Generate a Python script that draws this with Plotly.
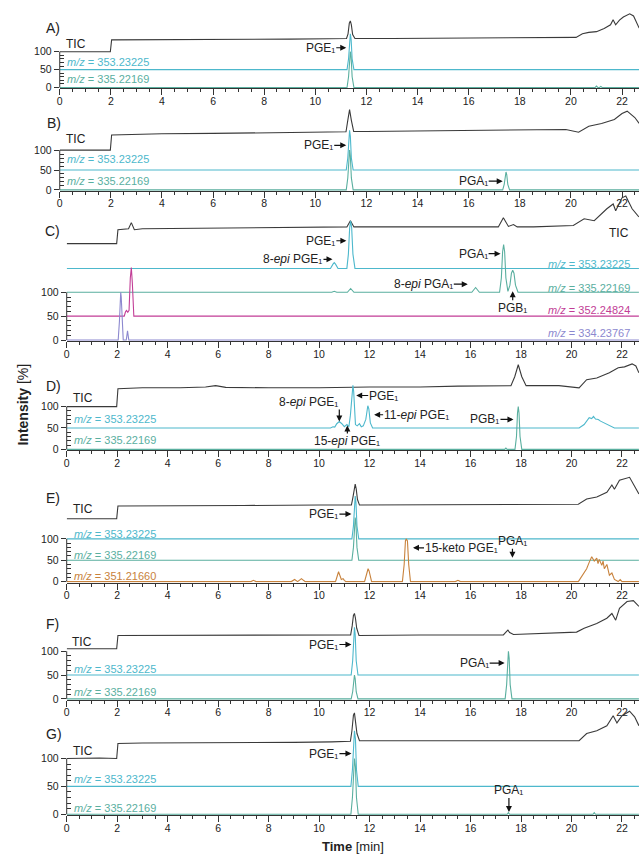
import plotly.graph_objects as go

W, H = 639, 858
FONT = "Liberation Sans, Arial, sans-serif"
INK = "#222222"
AXIS = "#333333"
C_TIC = "#3a3a3a"
C_353 = "#4db8cc"
C_335 = "#5aaf9f"
C_352 = "#c23d96"
C_334 = "#8c88cf"
C_351 = "#c8823c"

# ---------------- chromatogram data (time in min, intensity in %) ----------------
# Panel A
A_tic_t = [0, 1.98, 2.03, 3, 5, 7, 9, 10.5, 11.22, 11.28, 11.33, 11.37, 11.41, 11.46, 11.55,
           13, 15, 17, 19, 20.2, 20.45, 20.7, 21.0, 21.3, 21.55, 21.65, 21.75, 21.9, 22.05,
           22.3, 22.45, 22.67]
A_tic_v = [0, 0, 33, 33, 34, 34, 35, 36, 37, 50, 80, 86, 75, 48, 37,
           37, 38, 38, 39, 40, 50, 54, 56, 65, 75, 89, 75, 88, 97,
           106, 100, 66]
A_353_t = [0, 11.24, 11.30, 11.34, 11.37, 11.40, 11.44, 11.51, 22.67]
A_353_v = [0, 0, 30, 85, 100, 85, 30, 0, 0]
A_335_t = [0, 11.24, 11.30, 11.34, 11.37, 11.40, 11.44, 11.51,
           20.95, 21.0, 21.05, 21.12, 21.17, 21.22, 22.67]
A_335_v = [0, 0, 30, 85, 100, 85, 30, 0, 0, 4, 0, 0, 3, 0, 0]

# Panel B
B_tic_t = [0, 1.98, 2.03, 4, 6, 8, 10, 10.8, 11.2, 11.27, 11.34, 11.41, 11.5,
           12, 14, 16, 18, 19.8, 20.3, 20.7, 21.2, 21.7, 22.0, 22.2, 22.5, 22.67]
B_tic_v = [0, 0, 38, 41, 42, 43, 44, 45, 46, 75, 102, 75, 47,
           47, 48, 49, 50, 52, 45, 60, 67, 77, 92, 98, 82, 67]
B_353_t = [0, 11.21, 11.27, 11.31, 11.34, 11.37, 11.41, 11.48, 22.67]
B_353_v = [0, 0, 30, 85, 100, 85, 30, 0, 0]
B_335_t = [0, 11.21, 11.27, 11.31, 11.34, 11.37, 11.41, 11.48,
           17.33, 17.39, 17.43, 17.46, 17.49, 17.53, 17.60, 22.67]
B_335_v = [0, 0, 30, 85, 100, 85, 30, 0, 0, 14, 38, 45, 38, 14, 0, 0]

# Panel C
C_tic_t = [0, 1.98, 2.03, 2.45, 2.56, 2.68, 3, 5, 7, 9, 10.5, 11.1, 11.24, 11.38,
           12, 14, 16, 17.1, 17.3, 17.5, 17.7, 17.85, 18.5, 20.07, 20.5, 20.9,
           21.4, 21.65, 21.75, 22.0, 22.15, 22.4, 22.67]
C_tic_v = [2, 2, 31, 33, 46, 31, 33, 34, 35, 36, 37, 37, 50, 37,
           37, 37, 37, 37, 56, 38, 42, 37, 37, 40, 54, 50,
           75, 85, 71, 98, 102, 75, 58]
C_353_t = [0, 10.45, 10.55, 10.6, 10.65, 10.75, 11.1, 11.16, 11.21, 11.25, 11.29,
           11.34, 11.42, 22.67]
C_353_v = [0, 0, 9, 12, 9, 0, 0, 30, 85, 100, 85, 30, 0, 0]
C_335_t = [0, 10.5, 10.6, 10.7, 11.12, 11.25, 11.38, 16.05, 16.2, 16.35, 17.15, 17.22,
           17.27, 17.31, 17.35, 17.4, 17.48, 17.56, 17.62, 17.67, 17.72, 17.78, 17.88, 22.67]
C_335_v = [0, 0, 2, 0, 0, 8, 0, 0, 10, 0, 0, 30,
           85, 100, 85, 30, 2, 15, 40, 46, 40, 15, 0, 0]
C_352_t = [0, 2.28, 2.33, 2.37, 2.42, 2.47, 2.52, 2.56, 2.6, 2.66, 22.67]
C_352_v = [0, 0, 9, 12, 8, 12, 80, 102, 70, 0, 0]
C_334_t = [0, 2.04, 2.09, 2.12, 2.14, 2.16, 2.19, 2.24, 2.36, 2.41, 2.46, 22.67]
C_334_v = [0, 0, 40, 90, 100, 90, 40, 0, 0, 19, 0, 0]

# Panel D
D_tic_t = [0, 1.98, 2.03, 3, 4.5, 5.5, 5.9, 6.3, 8, 10, 12, 14, 15.5, 16.5, 17.6,
           17.75, 17.89, 18.03, 18.2, 19.5, 20.3, 20.6, 21.0, 21.5, 21.85, 22.1,
           22.4, 22.55, 22.67]
D_tic_v = [0, 0, 42, 44, 44, 46, 49, 45, 44, 44, 46, 46, 48, 49, 49,
           70, 98, 70, 49, 49, 44, 63, 67, 79, 91, 93,
           100, 95, 79]
D_353_t = [0, 10.45, 10.55, 10.62, 10.7, 10.8, 10.9, 11.0, 11.1, 11.18, 11.24, 11.3,
           11.34, 11.37, 11.4, 11.44, 11.51, 11.6, 11.67, 11.75, 11.85, 11.89, 11.93,
           11.97, 12.03, 12.12, 20.3, 20.5, 20.6, 20.7, 20.8, 20.87, 20.95, 21.06,
           21.15, 21.26, 21.4, 21.5, 21.7, 22.67]
D_353_v = [0, 0, 3, 2, 10, 15, 10, 3, 8, 3, 30,
           85, 100, 85, 30, 8, 5, 10, 3, 5, 20, 45, 52,
           45, 12, 0, 0, 8, 17, 24, 22, 27, 21, 20,
           16, 13, 8, 6, 0, 0]
D_335_t = [0, 17.35, 17.4, 17.45, 17.76, 17.82, 17.86, 17.89, 17.92, 17.96, 18.03, 22.67]
D_335_v = [0, 0, 3, 0, 0, 30, 85, 100, 85, 30, 0, 0]

# Panel E
E_tic_t = [0, 1.98, 2.03, 4, 7, 10, 11.28, 11.34, 11.39, 11.43, 11.47, 11.52, 11.6,
           14, 16, 20.27, 20.6, 21.0, 21.4, 21.6, 21.7, 21.9, 22.3, 22.5, 22.67]
E_tic_v = [0, 0, 30, 31, 31, 32, 32, 50, 75, 81, 70, 45, 32,
           33, 34, 34, 46, 51, 62, 79, 69, 90, 97, 74, 58]
E_353_t = [0, 11.30, 11.36, 11.40, 11.43, 11.46, 11.50, 11.57, 22.67]
E_353_v = [0, 0, 30, 85, 100, 85, 30, 0, 0]
E_335_t = [0, 11.30, 11.36, 11.40, 11.43, 11.46, 11.50, 11.57, 22.67]
E_335_v = [0, 0, 30, 85, 100, 85, 30, 0, 0]
E_351_t = [0, 7.3, 7.4, 7.5, 8.9, 9.03, 9.15, 9.3, 9.38, 9.45, 10.65, 10.77, 10.88,
           10.95, 11.0, 11.06, 11.8, 11.9, 11.94, 11.98, 12.08, 13.3, 13.37, 13.42,
           13.45, 13.5, 13.55, 13.62, 15.4, 15.5, 15.6, 20.27, 20.45, 20.6, 20.7,
           20.8, 20.9, 21.0, 21.05, 21.1, 21.2, 21.25, 21.3, 21.4, 21.5, 21.6, 21.7,
           21.85, 21.93, 22.0, 22.67]
E_351_v = [0, 0, 3, 0, 0, 5, 0, 7, 3, 0, 0, 23, 5,
           7, 3, 0, 0, 25, 30, 25, 0, 0, 40, 95,
           100, 95, 40, 0, 0, 3, 0, 0, 15, 30, 45,
           58, 48, 55, 42, 52, 38, 48, 30, 40, 15, 20, 5,
           0, 5, 0, 0]

# Panel F
F_tic_t = [0, 1.98, 2.03, 4, 7, 10, 11.25, 11.31, 11.36, 11.4, 11.44, 11.49, 11.58,
           14, 17.3, 17.42, 17.48, 17.55, 17.7, 20.2, 20.5, 21.0, 21.4, 21.6, 21.75,
           21.9, 22.2, 22.45, 22.67]
F_tic_v = [2, 2, 30, 30, 31, 31, 31, 50, 72, 76, 66, 45, 30,
           31, 31, 38, 41, 36, 32, 37, 45, 55, 66, 76, 62,
           87, 101, 103, 91]
F_353_t = [0, 11.27, 11.33, 11.37, 11.4, 11.43, 11.47, 11.54, 22.67]
F_353_v = [0, 0, 30, 85, 100, 85, 30, 0, 0]
F_335_t = [0, 11.27, 11.33, 11.37, 11.4, 11.43, 11.47, 11.54,
           17.37, 17.43, 17.47, 17.5, 17.53, 17.57, 17.64, 22.67]
F_335_v = [0, 0, 15, 42, 50, 42, 15, 0, 0, 30, 85, 100, 85, 30, 0, 0]

# Panel G
G_tic_t = [0, 0.7, 1.3, 1.98, 2.03, 3, 5, 7, 9, 10.5, 11.24, 11.3, 11.36, 11.4, 11.44,
           11.5, 11.6, 14, 17, 20.3, 20.6, 21.0, 21.4, 21.65, 21.8, 22.0, 22.3, 22.5, 22.67]
G_tic_v = [0, 1, 1, 0, 27, 28, 28, 29, 29, 30, 31, 50, 78, 82, 70, 45, 32,
           32, 32, 32, 45, 50, 59, 77, 64, 77, 85, 75, 59]
G_353_t = [0, 11.26, 11.32, 11.36, 11.4, 11.44, 11.48, 11.55, 22.67]
G_353_v = [0, 0, 30, 85, 100, 85, 30, 0, 0]
G_335_t = [0, 11.26, 11.32, 11.36, 11.4, 11.44, 11.48, 11.55,
           17.45, 17.5, 17.55, 20.85, 20.9, 20.95, 22.67]
G_335_v = [0, 0, 30, 85, 100, 85, 30, 0, 0, 3, 0, 0, 3, 0, 0]

MZ353 = "<i>m/z</i> = 353.23225"
MZ335 = "<i>m/z</i> = 335.22169"
PGE1 = "PGE\u2081"
PGA1 = "PGA\u2081"
PGB1 = "PGB\u2081"

# ---------------- panel geometry (pixels) and stacking offsets ----------------
panels = [
    dict(tag="A)", lab=(50, 28), x0=57, ppm=25.68, zero=88, scale=0.36, top=8,
         traces=[(A_tic_t, A_tic_v, 100, C_TIC), (A_353_t, A_353_v, 50, C_353),
                 (A_335_t, A_335_v, 0, C_335)]),
    dict(tag="B)", lab=(51, 124), x0=57, ppm=25.68, zero=191, scale=0.40, top=106,
         traces=[(B_tic_t, B_tic_v, 100, C_TIC), (B_353_t, B_353_v, 50, C_353),
                 (B_335_t, B_335_v, 0, C_335)]),
    dict(tag="C)", lab=(50, 232), x0=64, ppm=25.36, zero=342, scale=0.48, top=192,
         traces=[(C_tic_t, C_tic_v, 200, C_TIC), (C_353_t, C_353_v, 150, C_353),
                 (C_335_t, C_335_v, 100, C_335), (C_352_t, C_352_v, 50, C_352),
                 (C_334_t, C_334_v, 0, C_334)]),
    dict(tag="D)", lab=(51, 388), x0=64, ppm=25.36, zero=452, scale=0.43, top=362,
         traces=[(D_tic_t, D_tic_v, 100, C_TIC), (D_353_t, D_353_v, 50, C_353),
                 (D_335_t, D_335_v, 0, C_335)]),
    dict(tag="E)", lab=(50, 501), x0=64, ppm=25.36, zero=585, scale=0.43, top=476,
         traces=[(E_tic_t, E_tic_v, 147, C_TIC), (E_353_t, E_353_v, 100, C_353),
                 (E_335_t, E_335_v, 50, C_335), (E_351_t, E_351_v, 0, C_351)]),
    dict(tag="F)", lab=(50, 628), x0=64, ppm=25.36, zero=703, scale=0.48, top=598,
         traces=[(F_tic_t, F_tic_v, 103, C_TIC), (F_353_t, F_353_v, 50, C_353),
                 (F_335_t, F_335_v, 0, C_335)]),
    dict(tag="G)", lab=(51, 738), x0=64, ppm=25.36, zero=819, scale=0.56, top=708,
         traces=[(G_tic_t, G_tic_v, 100, C_TIC), (G_353_t, G_353_v, 50, C_353),
                 (G_335_t, G_335_v, 0, C_335)]),
]

# ---------------- plain labels: (panel, time, intensity, text, size, color, xanchor) ----------------
labels = [
    (1, 0.16, 122, "TIC", 12, INK, "left"),
    (1, 0.2, 72, MZ353, 11, C_353, "left"),
    (1, 0.2, 25, MZ335, 11, C_335, "left"),

    (2, 0.16, 127, "TIC", 12, INK, "left"),
    (2, 0.2, 77, MZ353, 11, C_353, "left"),
    (2, 0.2, 22, MZ335, 11, C_335, "left"),

    (3, 21.9, 225, "TIC", 12, INK, "center"),
    (3, 22.4, 160, MZ353, 11, C_353, "right"),
    (3, 22.4, 108, MZ335, 11, C_335, "right"),
    (3, 22.4, 62, "<i>m/z</i> = 352.24824", 11, C_352, "right"),
    (3, 22.4, 15, "<i>m/z</i> = 334.23767", 11, C_334, "right"),

    (4, 0.16, 121, "TIC", 12, INK, "left"),
    (4, 0.2, 70, MZ353, 11, C_353, "left"),
    (4, 0.2, 21, MZ335, 11, C_335, "left"),

    (5, 0.16, 170, "TIC", 12, INK, "left"),
    (5, 0.2, 112, MZ353, 11, C_353, "left"),
    (5, 0.2, 63, MZ335, 11, C_335, "left"),
    (5, 0.2, 12, "<i>m/z</i> = 351.21660", 11, C_351, "left"),

    (6, 0.12, 119, "TIC", 12, INK, "left"),
    (6, 0.2, 62, MZ353, 11, C_353, "left"),
    (6, 0.2, 14, MZ335, 11, C_335, "left"),

    (7, 0.16, 114, "TIC", 12, INK, "left"),
    (7, 0.2, 64, MZ353, 11, C_353, "left"),
    (7, 0.2, 12, MZ335, 11, C_335, "left"),
]

# ---------------- peak callouts: (panel, tip time, tip intensity, tail dx px, tail dy px,
#                  text, xanchor, yanchor) ----------------
callouts = [
    (1, 11.21, 111, -10, 0, PGE1, "right", "middle"),
    (2, 11.21, 112, -12, 0, PGE1, "right", "middle"),
    (2, 17.33, 22, -14, 0, PGA1, "right", "middle"),
    (3, 11.08, 208, -10, 0, PGE1, "right", "middle"),
    (3, 10.53, 169, -9, 0, "8-<i>epi</i> PGE\u2081", "right", "middle"),
    (3, 17.19, 181, -12, 0, PGA1, "right", "middle"),
    (3, 15.89, 117, -14, 0, "8-<i>epi</i> PGA\u2081", "right", "middle"),
    (3, 17.67, 102, 0, 9, PGB1, "center", "top"),
    (4, 10.8, 65, 0, -12, "8-<i>epi</i> PGE\u2081", "right", "bottom"),
    (4, 11.12, 56, 0, 8, "15-<i>epi</i> PGE\u2081", "center", "top"),
    (4, 11.47, 126, 12, 0, PGE1, "left", "middle"),
    (4, 12.18, 81, 9, 0, "11-<i>epi</i> PGE\u2081", "left", "middle"),
    (4, 17.7, 70, -13, 0, PGB1, "right", "middle"),
    (5, 11.28, 158, -12, 0, PGE1, "right", "middle"),
    (5, 13.72, 79, 11, 0, "15-keto PGE\u2081", "left", "middle"),
    (5, 17.66, 56, 0, -9, PGA1, "center", "bottom"),
    (6, 11.28, 114, -12, 0, PGE1, "right", "middle"),
    (6, 17.35, 75, -15, 0, PGA1, "right", "middle"),
    (7, 11.28, 109, -12, 0, PGE1, "right", "middle"),
    (7, 17.52, 4, 0, -14, PGA1, "center", "bottom"),
]

fig = go.Figure()
layout = dict(width=W, height=H, margin=dict(l=0, r=0, t=0, b=0),
              paper_bgcolor="white", plot_bgcolor="white", showlegend=False,
              font=dict(family=FONT, color=INK))
shapes, annotations = [], []
PAD = 1.0

for i, p in enumerate(panels, start=1):
    sfx = "" if i == 1 else str(i)
    xa, ya = "x" + sfx, "y" + sfx
    for t, v, off, col in p["traces"]:
        fig.add_trace(go.Scatter(x=t, y=[off + a for a in v], mode="lines",
                                 line=dict(color=col, width=1.1),
                                 xaxis=xa, yaxis=ya, hoverinfo="skip"))
    z, s, top = p["zero"], p["scale"], p["top"]
    layout["xaxis" + sfx] = dict(
        domain=[p["x0"] / W, 1.0], range=[0, (W - p["x0"]) / p["ppm"]], anchor=ya,
        showline=True, linecolor=AXIS, linewidth=1, showgrid=False, zeroline=False,
        tickmode="linear", tick0=0, dtick=2, ticks="outside", ticklen=6,
        tickcolor=AXIS, tickwidth=1,
        minor=dict(tickmode="linear", tick0=0, dtick=0.5, ticks="outside",
                   ticklen=3, tickcolor=AXIS, tickwidth=1),
        tickfont=dict(size=10.5, color=INK, family=FONT), ticklabelstandoff=-3)
    layout["yaxis" + sfx] = dict(
        domain=[(H - z - PAD) / H, (H - top) / H], range=[-PAD / s, (z - top) / s],
        anchor=xa, showline=False, showgrid=False, zeroline=False,
        tickmode="array", tickvals=[0, 50, 100], ticks="outside", ticklen=5,
        tickcolor=AXIS, tickwidth=1,
        minor=dict(tickmode="array", tickvals=[10, 20, 30, 40, 60, 70, 80, 90],
                   ticks="inside", ticklen=4, tickcolor=AXIS, tickwidth=1),
        tickfont=dict(size=10.5, color=INK, family=FONT))
    shapes.append(dict(type="line", xref=xa + " domain", yref=ya, x0=0, x1=0,
                       y0=0, y1=100, line=dict(color=AXIS, width=1)))
    annotations.append(dict(xref="paper", yref="paper", x=p["lab"][0] / W,
                            y=1 - p["lab"][1] / H, text=p["tag"], showarrow=False,
                            xanchor="center", yanchor="middle",
                            font=dict(size=14, color=INK, family=FONT)))

for pi, t, v, text, size, col, xanc in labels:
    sfx = "" if pi == 1 else str(pi)
    annotations.append(dict(xref="x" + sfx, yref="y" + sfx, x=t, y=v, text=text,
                            showarrow=False, xanchor=xanc, yanchor="middle",
                            font=dict(size=size, color=col, family=FONT)))

for pi, t, v, dx, dy, text, xanc, yanc in callouts:
    sfx = "" if pi == 1 else str(pi)
    annotations.append(dict(xref="x" + sfx, yref="y" + sfx, x=t, y=v, text=text,
                            showarrow=True, ax=dx, ay=dy, xanchor=xanc, yanchor=yanc,
                            arrowhead=2, arrowsize=1, arrowwidth=1.2,
                            arrowcolor="#111111", standoff=0, startstandoff=0,
                            borderpad=0, font=dict(size=12, color=INK, family=FONT)))

annotations.append(dict(xref="paper", yref="paper", x=20 / W, y=1 - 407 / H,
                        text="<b>Intensity</b> [%]", textangle=-90, showarrow=False,
                        xanchor="center", yanchor="middle",
                        font=dict(size=14, color=INK, family=FONT)))
annotations.append(dict(xref="paper", yref="paper", x=352 / W, y=1 - 851 / H,
                        text="<b>Time</b> [min]", showarrow=False,
                        xanchor="center", yanchor="middle",
                        font=dict(size=13, color=INK, family=FONT)))

layout["shapes"] = shapes
layout["annotations"] = annotations
fig.update_layout(**layout)
fig.write_html("out.html")
